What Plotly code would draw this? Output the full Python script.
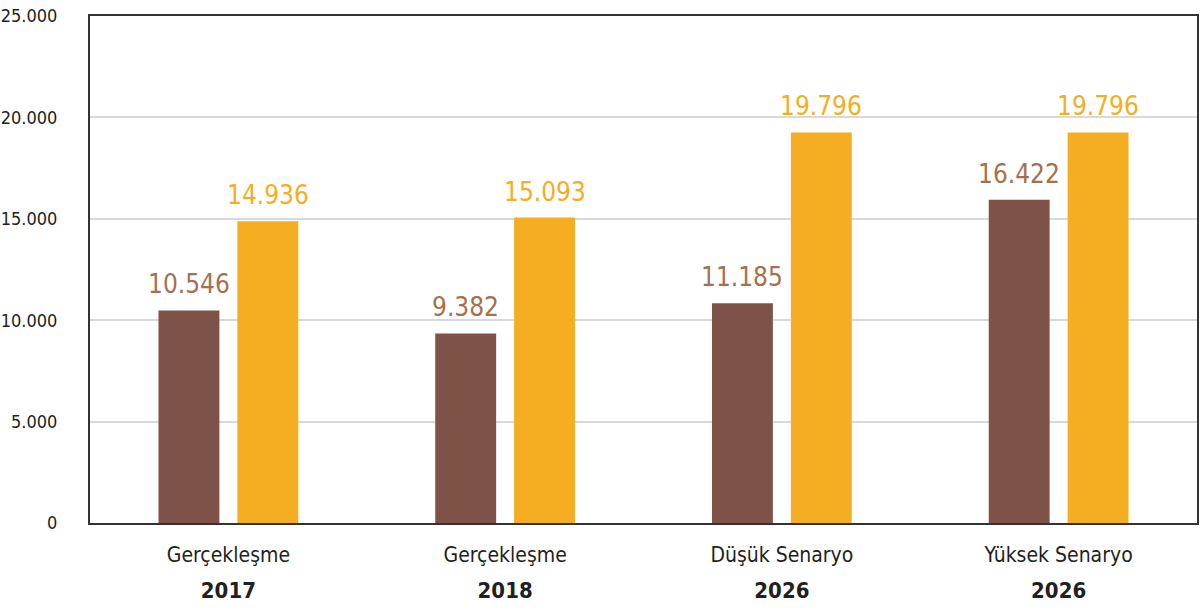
import plotly.graph_objects as go

categories = ["Gerçekleşme|2017", "Gerçekleşme|2018", "Düşük Senaryo|2026", "Yüksek Senaryo|2026"]
# bar heights as drawn in the picture
brown_values = [10480, 9350, 10840, 15940]
orange_values = [14880, 15060, 19260, 19260]
# printed labels
brown_labels = ["10.546", "9.382", "11.185", "16.422"]
orange_labels = ["14.936", "15.093", "19.796", "19.796"]
y_ticks = [0, 5000, 10000, 15000, 20000, 25000]
y_tick_text = ["0", "5.000", "10.000", "15.000", "20.000", "25.000"]

FONT = "DejaVu Sans Condensed, Liberation Sans Narrow, Arial Narrow, sans-serif"
BROWN = "#7f5248"
BROWN_TXT = "#a3714f"
ORANGE = "#f5ae22"

tick_text = []
for c in categories:
    name, yr = c.split("|")
    tick_text.append(f"<span style='font-size:21px'>{name}</span><br>"
                     f"<span style='font-size:22px'><b>{yr}</b></span>")

x_idx = list(range(len(categories)))

fig = go.Figure()
fig.add_trace(go.Bar(x=x_idx, y=brown_values, marker_color=BROWN, marker_line_width=0, name="a"))
fig.add_trace(go.Bar(x=x_idx, y=orange_values, marker_color=ORANGE, marker_line_width=0, name="b"))

bargap = 0.43
slot = (1 - bargap) / 2
for i in x_idx:
    fig.add_annotation(x=i - slot / 2, y=brown_values[i], text=brown_labels[i], showarrow=False,
                       yanchor="bottom", yshift=9, font=dict(family=FONT, size=26, color=BROWN_TXT))
    fig.add_annotation(x=i + slot / 2, y=orange_values[i], text=orange_labels[i], showarrow=False,
                       yanchor="bottom", yshift=9, font=dict(family=FONT, size=26, color=ORANGE))

fig.update_layout(
    width=1200, height=614,
    margin=dict(l=90, r=3, t=16, b=91),
    paper_bgcolor="white", plot_bgcolor="white",
    barmode="group", bargap=bargap, bargroupgap=0.228,
    showlegend=False,
    font=dict(family=FONT, color="#231f20"),
)
fig.update_xaxes(
    tickmode="array", tickvals=x_idx, ticktext=tick_text,
    range=[-0.5, len(categories) - 0.5], automargin=False,
    showline=True, mirror=True, linecolor="#333333", linewidth=2,
    showgrid=False, ticks="", tickfont=dict(size=28, color="#231f20"),
    ticklabelstandoff=3,
)
fig.update_yaxes(
    range=[0, 25000], tickmode="array", tickvals=y_ticks, ticktext=y_tick_text,
    automargin=False,
    showline=True, mirror=True, linecolor="#333333", linewidth=2,
    showgrid=True, gridcolor="#d9d9d9", gridwidth=1.5, zeroline=False,
    ticks="", ticklabelstandoff=27, tickfont=dict(size=18, color="#231f20"),
)

fig.write_html("out.html", config={"displayModeBar": False},
               post_script="document.body.style.margin='0';document.body.style.overflow='hidden';")
